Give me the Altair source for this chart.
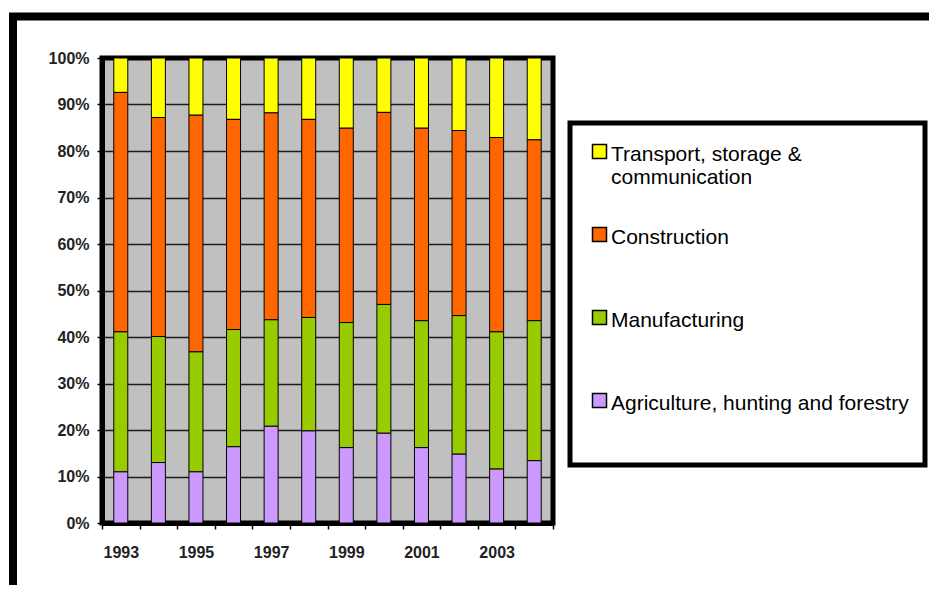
import altair as alt
import pandas as pd

years = ["1993", "1994", "1995", "1996", "1997", "1998",
         "1999", "2000", "2001", "2002", "2003", "2004"]
year_labels = ["1993", "1995", "1997", "1999", "2001", "2003"]

sectors = ["Transport, storage & communication", "Construction",
           "Manufacturing", "Agriculture, hunting and forestry"]
sector_colors = ["#FFFF00", "#FF6600", "#99CC00", "#CC99FF"]
stack_position = [3, 2, 1, 0]  # 0 = bottom of the bar

agriculture = [11.0, 13.0, 11.0, 16.4, 20.8, 19.8, 16.2, 19.3, 16.2, 14.8, 11.6, 13.4]
manufacturing = [30.1, 27.1, 25.8, 25.2, 22.9, 24.4, 26.9, 27.7, 27.3, 29.8, 29.5, 30.1]
construction = [51.5, 47.1, 50.9, 45.2, 44.5, 42.6, 41.8, 41.3, 41.4, 39.8, 41.8, 38.9]
transport = [7.4, 12.8, 12.3, 13.2, 11.8, 13.2, 15.1, 11.7, 15.1, 15.6, 17.1, 17.6]

y_ticks = [0, 0.1, 0.2, 0.3, 0.4, 0.5, 0.6, 0.7, 0.8, 0.9, 1.0]

legend_wrap = {"Transport, storage & communication": ["Transport, storage &", "communication"]}

series = [transport, construction, manufacturing, agriculture]
rows = []
for s, vals, pos in zip(sectors, series, stack_position):
    for y, v in zip(years, vals):
        rows.append({"year": y, "sector": s, "value": v, "pos": pos})
df = pd.DataFrame(rows)

FONT = "Liberation Sans, Arial"

label_list = "[" + ",".join("'" + y + "'" for y in year_labels) + "]"
x_label_expr = f"indexof({label_list}, datum.label) >= 0 ? datum.label : ''"

wrap_expr = "[datum.label, '']"
for k, lines in legend_wrap.items():
    arr = "[" + ",".join("'" + l + "'" for l in lines) + "]"
    wrap_expr = f"datum.label == '{k}' ? {arr} : " + wrap_expr

bars = alt.Chart(df).mark_bar(width=14, stroke="black", strokeWidth=1).encode(
    x=alt.X("year:N", sort=years,
            scale=alt.Scale(paddingInner=0, paddingOuter=0),
            axis=alt.Axis(title=None, labelExpr=x_label_expr, tickBand="extent",
                          labelAngle=0, labelFont=FONT, labelFontSize=16,
                          labelFontWeight="bold",
                          labelColor="#222", labelPadding=15, tickSize=6,
                          tickColor="black", tickWidth=1.5,
                          domainColor="black", domainWidth=5, grid=False)),
    y=alt.Y("value:Q", stack="normalize",
            scale=alt.Scale(domain=[0, 1], nice=False),
            axis=alt.Axis(title=None, values=y_ticks, format=".0%",
                          labelFont=FONT, labelFontSize=16, labelColor="#222",
                          labelFontWeight="bold",
                          labelPadding=8, tickSize=5, tickColor="black",
                          tickWidth=1.5, domainColor="black", domainWidth=5,
                          grid=True, gridColor="black", gridWidth=1.5,
                          gridOpacity=0.85)),
    color=alt.Color("sector:N",
                    scale=alt.Scale(domain=sectors, range=sector_colors),
                    legend=alt.Legend(title=None, orient="none", legendX=487,
                                      legendY=75, labelFont=FONT,
                                      labelFontSize=21, labelColor="black",
                                      labelLimit=500, labelBaseline="top",
                                      labelExpr=wrap_expr, labelOffset=1,
                                      symbolType="M-1,0.15H1V2.15H-1Z",
                                      symbolSize=196, symbolStrokeColor="black",
                                      symbolStrokeWidth=1.5, symbolOpacity=1,
                                      rowPadding=28, padding=0)),
    order=alt.Order("pos:Q", sort="ascending"),
)

one = alt.Data(values=[{"k": 1}])

outer_frame = alt.Chart(one).mark_rect(filled=False, stroke="black",
                                       strokeWidth=8).encode(
    x=alt.value(-89), x2=alt.value(900), y=alt.value(-41.5), y2=alt.value(600))

legend_box = alt.Chart(one).mark_rect(fill="white", stroke="black",
                                      strokeWidth=5).encode(
    x=alt.value(468), x2=alt.value(823), y=alt.value(65), y2=alt.value(407))

chart = alt.layer(outer_frame, legend_box, bars).properties(
    width=451, height=465,
    autosize=alt.AutoSizeParams(type="none"),
    padding={"left": 94, "top": 50, "right": 376, "bottom": 62},
    background="white",
).configure_view(fill="#C0C0C0", stroke="black", strokeWidth=5)

chart.save("out.html", embed_options={"renderer": "svg", "actions": False})
